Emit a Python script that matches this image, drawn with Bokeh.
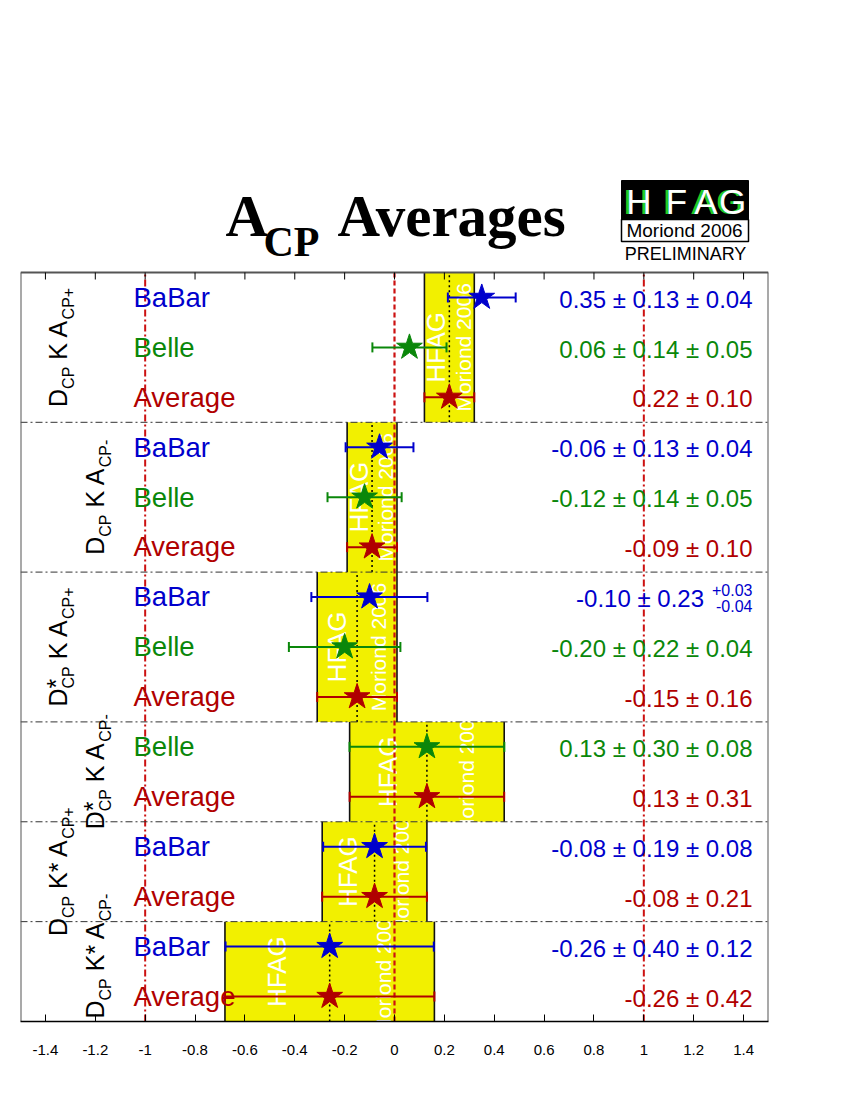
import math
from bokeh.plotting import figure
from bokeh.models import Range1d, FixedTicker, Label
from bokeh.embed import file_html
from bokeh.resources import INLINE
from bokeh.core.properties import value

# ---------------- data ----------------
group_labels = [
    [("D", "n"), ("CP", "sub"), (" K A", "n"), ("CP+", "sub")],
    [("D", "n"), ("CP", "sub"), (" K A", "n"), ("CP-", "sub")],
    [("D", "n"), ("*", "sup"), ("CP", "sub"), (" K A", "n"), ("CP+", "sub")],
    [("D", "n"), ("*", "sup"), ("CP", "sub"), (" K A", "n"), ("CP-", "sub")],
    [("D", "n"), ("CP", "sub"), (" K* A", "n"), ("CP+", "sub")],
    [("D", "n"), ("CP", "sub"), (" K* A", "n"), ("CP-", "sub")],
]
group_sizes = [3, 3, 3, 2, 2, 2]
row_names = ["BaBar", "Belle", "Average",
             "BaBar", "Belle", "Average",
             "BaBar", "Belle", "Average",
             "Belle", "Average",
             "BaBar", "Average",
             "BaBar", "Average"]
row_values = [0.35, 0.06, 0.22, -0.06, -0.12, -0.09, -0.10, -0.20, -0.15,
              0.13, 0.13, -0.08, -0.08, -0.26, -0.26]
row_stat = [0.13, 0.14, 0.10, 0.13, 0.14, 0.10, 0.23, 0.22, 0.16,
            0.30, 0.31, 0.19, 0.21, 0.40, 0.42]
row_syst_up = [0.04, 0.05, 0.0, 0.04, 0.05, 0.0, 0.03, 0.04, 0.0,
               0.08, 0.0, 0.08, 0.0, 0.12, 0.0]
row_syst_dn = [0.04, 0.05, 0.0, 0.04, 0.05, 0.0, 0.04, 0.04, 0.0,
               0.08, 0.0, 0.08, 0.0, 0.12, 0.0]
tick_values = [-1.4, -1.2, -1.0, -0.8, -0.6, -0.4, -0.2, 0.0,
               0.2, 0.4, 0.6, 0.8, 1.0, 1.2, 1.4]
tick_labels = ["-1.4", "-1.2", "-1", "-0.8", "-0.6", "-0.4", "-0.2", "0",
               "0.2", "0.4", "0.6", "0.8", "1", "1.2", "1.4"]
reference_dashed = [0.0]
reference_dashdot = [-1.0, 1.0]
title_main, title_sub, title_rest = "A", "CP", "Averages"
logo_letters = ["H", "F", "A", "G"]
logo_event = "Moriond 2006"
logo_status = "PRELIMINARY"
watermark_top, watermark_bottom = "HFAG", "Moriond 2006"

# ---------------- styles / geometry ----------------
colors = {"BaBar": "#0000cc", "Belle": "#0a870a", "Average": "#b00000"}
YELLOW = "#f2f000"
FONT = "Liberation Sans"
SERIF = "Liberation Serif"
BL = 0.37  # renderer's baseline drop (fraction of font size) compensated below
X0, X1 = -1.5, 1.5
NROWS = len(row_names)
PX_L, PX_R, PY_T, PY_B = 20, 768, 272, 1021
PY_HDR = 172
DXPP = (X1 - X0) / (PX_R - PX_L)
DYPP = NROWS / (PY_B - PY_T)
Y_TOP = (PY_B - PY_HDR) * DYPP


def fx(px):
    return X0 + (px - PX_L) * DXPP


def fy(py):
    return (PY_B - py) * DYPP


def hb(py, fs):
    """data y of anchor so that the visual baseline lands at page y py"""
    return fy(py - BL * fs)


W = {" ": 278, "*": 389, "+": 584, "-": 333, ".": 278, "±": 549,
     "A": 667, "B": 667, "C": 722, "D": 722, "E": 667, "F": 611, "G": 778,
     "H": 722, "I": 278, "K": 667, "L": 556, "M": 833, "N": 722, "P": 667,
     "R": 722, "Y": 667, "a": 556, "d": 556, "e": 556, "g": 556, "i": 222,
     "l": 222, "n": 556, "o": 556, "r": 333, "v": 500}


def tw(s, fs):
    return sum(W.get(c, 556) for c in s) / 1000.0 * fs


FIG_W, FIG_H = 834, 1084
p = figure(width=FIG_W, height=FIG_H, x_range=Range1d(X0, X1), y_range=Range1d(0, Y_TOP),
           toolbar_location=None, output_backend="svg", y_axis_location=None,
           min_border_left=PX_L, min_border_right=FIG_W - PX_R,
           min_border_top=PY_HDR, min_border_bottom=FIG_H - PY_B)
p.grid.visible = False
p.outline_line_color = None
p.xaxis.ticker = FixedTicker(ticks=tick_values)
p.xaxis.major_label_overrides = dict(zip(tick_values, tick_labels))
p.xaxis.minor_tick_line_color = None
p.xaxis.major_tick_in = 7
p.xaxis.major_tick_out = 0
p.xaxis.major_tick_line_color = "black"
p.xaxis.axis_line_color = "black"
p.xaxis.axis_line_width = 1.5
p.xaxis.major_label_standoff = 23
p.xaxis.major_label_text_font = FONT
p.xaxis.major_label_text_font_size = "15px"
p.xaxis.major_label_text_color = "black"

# ---------------- header (title + logo) ----------------
p.text(x=[fx(225)], y=[hb(237, 59)], text=[title_main], text_font=value(SERIF),
       text_font_style="bold", text_font_size="59px", text_baseline="alphabetic",
       text_align="left", text_color="black")
p.text(x=[fx(263)], y=[hb(257, 42)], text=[title_sub], text_font=value(SERIF),
       text_font_style="bold", text_font_size="42px", text_baseline="alphabetic",
       text_align="left", text_color="black")
p.text(x=[fx(337)], y=[hb(237, 59)], text=[title_rest], text_font=value(SERIF),
       text_font_style="bold", text_font_size="59px", text_baseline="alphabetic",
       text_align="left", text_color="black")
p.quad(left=[fx(621)], right=[fx(748)], top=[fy(180)], bottom=[fy(219)],
       fill_color="black", line_color="black")
p.quad(left=[fx(621)], right=[fx(748)], top=[fy(219)], bottom=[fy(241)],
       fill_color="white", line_color="black", line_width=1.5)
letter_px = [638.5, 676, 705.5, 732]
p.text(x=[fx(v - 3) for v in letter_px], y=[hb(214, 35)] * 4, text=logo_letters,
       text_font=value(FONT), text_font_size="35px", text_align="center",
       text_baseline="alphabetic", text_color="#22cc22")
p.text(x=[fx(v) for v in letter_px], y=[hb(214, 35)] * 4, text=logo_letters,
       text_font=value(FONT), text_font_size="35px", text_align="center",
       text_baseline="alphabetic", text_color="white")
p.text(x=[fx(684)], y=[hb(237, 19)], text=[logo_event], text_font=value(FONT),
       text_font_size="19px", text_align="center", text_baseline="alphabetic",
       text_color="black")
p.text(x=[fx(685)], y=[hb(260, 18)], text=[logo_status], text_font=value(FONT),
       text_font_size="18px", text_align="center", text_baseline="alphabetic",
       text_color="black")

# ---------------- chart ----------------
row_y = [NROWS - i - 0.5 for i in range(NROWS)]
err_up = [math.sqrt(s ** 2 + u ** 2) for s, u in zip(row_stat, row_syst_up)]
err_dn = [math.sqrt(s ** 2 + d ** 2) for s, d in zip(row_stat, row_syst_dn)]

sections = []
start = 0
for g, n in enumerate(group_sizes):
    top = NROWS - start
    bot = top - n
    ia = start + n - 1
    c = row_values[ia]
    e = row_stat[ia]
    sections.append(dict(top=top, bot=bot, c=c, lo=c - e, hi=c + e, e=e))
    start += n

# yellow boxes
p.quad(left=[s["lo"] for s in sections], right=[s["hi"] for s in sections],
       top=[s["top"] for s in sections], bottom=[s["bot"] for s in sections],
       fill_color=YELLOW, line_color=None)

# watermark texts (rotated)
WM_H, WM_M = 26, 21
wm_y = [(s["top"] + s["bot"]) / 2 for s in sections]
wm_hx = [s["c"] - s["e"] / 2 + 9 * DXPP for s in sections]
wm_mx = [s["c"] + s["e"] / 2 + 9 * DXPP for s in sections]
p.text(x=[v - BL * WM_H * DXPP for v in wm_hx], y=wm_y,
       text=[watermark_top] * len(sections), angle=math.pi / 2,
       text_font=value(FONT), text_font_size=f"{WM_H}px", text_align="center",
       text_baseline="alphabetic", text_color="white")
p.text(x=[v - BL * WM_M * DXPP for v in wm_mx], y=wm_y,
       text=[watermark_bottom] * len(sections), angle=math.pi / 2,
       text_font=value(FONT), text_font_size=f"{WM_M}px", text_align="center",
       text_baseline="alphabetic", text_color="white")

# clip overflow of watermark text (cover with the neighbour's background)
half = tw(watermark_bottom, WM_M) / 2 * DYPP
cl, cr, ct, cb, cc = [], [], [], [], []
for k, s in enumerate(sections):
    yc = (s["top"] + s["bot"]) / 2
    x0 = wm_mx[k] - 18 * DXPP
    x1 = wm_mx[k] + 4 * DXPP
    regions = []
    if yc + half > s["top"] and k > 0:
        regions.append((s["top"], yc + half + 2 * DYPP, sections[k - 1]))
    if yc - half < s["bot"]:
        nb = sections[k + 1] if k < len(sections) - 1 else None
        regions.append((yc - half - 2 * DYPP, s["bot"], nb))
    for ya, yb, nb in regions:
        if nb is None:
            cl.append(x0); cr.append(x1); cb.append(ya); ct.append(yb); cc.append("white")
            continue
        pts = sorted(set([x0, x1] + [v for v in (nb["lo"], nb["hi"]) if x0 < v < x1]))
        for a, b in zip(pts[:-1], pts[1:]):
            mid = (a + b) / 2
            cl.append(a); cr.append(b); cb.append(ya); ct.append(yb)
            cc.append(YELLOW if nb["lo"] <= mid <= nb["hi"] else "white")
if cl:
    p.quad(left=cl, right=cr, top=ct, bottom=cb, fill_color=cc, line_color=None)

# average dotted lines and box edges
p.segment(x0=[s["c"] for s in sections], y0=[s["bot"] for s in sections],
          x1=[s["c"] for s in sections], y1=[s["top"] for s in sections],
          line_color="black", line_width=1.5, line_dash="2 3")
edge_x = [s["lo"] for s in sections] + [s["hi"] for s in sections]
edge_b = [s["bot"] for s in sections] * 2
edge_t = [s["top"] for s in sections] * 2
p.segment(x0=edge_x, y0=edge_b, x1=edge_x, y1=edge_t, line_color="#111111", line_width=1.6)

# reference vertical lines
p.segment(x0=reference_dashed, y0=[0] * len(reference_dashed), x1=reference_dashed,
          y1=[NROWS] * len(reference_dashed), line_color="#cc1111", line_width=2.2,
          line_dash="5 3")
p.segment(x0=reference_dashdot, y0=[0] * len(reference_dashdot), x1=reference_dashdot,
          y1=[NROWS] * len(reference_dashdot), line_color="#cc1111", line_width=2,
          line_dash="7 3 2 3")

# separators
sep_y = [s["bot"] for s in sections[:-1]]
p.segment(x0=[X0] * len(sep_y), y0=sep_y, x1=[X1] * len(sep_y), y1=sep_y,
          line_color="#333333", line_width=1, line_dash="7 3 2 3")

# chart frame (top, left, right) and top ticks
p.segment(x0=[X0, X0, X1], y0=[NROWS, 0, 0], x1=[X1, X0, X1], y1=[NROWS, NROWS, NROWS],
          line_color="#555555", line_width=2)
p.segment(x0=tick_values, y0=[NROWS] * len(tick_values), x1=tick_values,
          y1=[NROWS - 7 * DYPP] * len(tick_values), line_color="black", line_width=1)

# error bars and stars
row_col = [colors[n] for n in row_names]
lo = [v - d for v, d in zip(row_values, err_dn)]
hi = [v + u for v, u in zip(row_values, err_up)]
p.segment(x0=lo, y0=row_y, x1=hi, y1=row_y, line_color=row_col, line_width=2)
cap = 5 * DYPP
p.segment(x0=lo + hi, y0=[y - cap for y in row_y] * 2, x1=lo + hi,
          y1=[y + cap for y in row_y] * 2, line_color=row_col * 2, line_width=2)
p.scatter(x=row_values, y=row_y, marker="star", size=27, fill_color=row_col,
          line_color=row_col)

# row names
NAME_FS, VAL_FS, SM_FS = 27.5, 24, 16
NAME_X = fx(133)
VAL_X = fx(752)
p.text(x=[NAME_X] * NROWS, y=[y - (10 - BL * NAME_FS) * DYPP for y in row_y],
       text=row_names, text_color=row_col, text_font=value(FONT),
       text_font_size=f"{NAME_FS}px", text_align="left", text_baseline="alphabetic")


def fmt(v):
    return f"{v:.2f}"


vx, vy, vt, vc = [], [], [], []
sx, sy, st, sc = [], [], [], []
for i in range(NROWS):
    v, s_, u, d = row_values[i], row_stat[i], row_syst_up[i], row_syst_dn[i]
    by = row_y[i] - (10.5 - BL * VAL_FS) * DYPP
    if u == 0 and d == 0:
        vx.append(VAL_X); vy.append(by); vt.append(f"{fmt(v)} ± {fmt(s_)}")
        vc.append(row_col[i])
    elif u == d:
        vx.append(VAL_X); vy.append(by)
        vt.append(f"{fmt(v)} ± {fmt(s_)} ± {fmt(u)}"); vc.append(row_col[i])
    else:
        up_t, dn_t = f"+{fmt(u)}", f"-{fmt(d)}"
        wsmall = max(tw(up_t, SM_FS), tw(dn_t, SM_FS))
        vx.append(VAL_X - (wsmall + 8) * DXPP); vy.append(by)
        vt.append(f"{fmt(v)} ± {fmt(s_)}"); vc.append(row_col[i])
        sx += [VAL_X, VAL_X]
        sy += [row_y[i] + (1.5 + BL * SM_FS) * DYPP, row_y[i] - (14.5 - BL * SM_FS) * DYPP]
        st += [up_t, dn_t]
        sc += [row_col[i], row_col[i]]
p.text(x=vx, y=vy, text=vt, text_color=vc, text_font=value(FONT),
       text_font_size=f"{VAL_FS}px", text_align="right", text_baseline="alphabetic")
if sx:
    p.text(x=sx, y=sy, text=st, text_color=sc, text_font=value(FONT),
           text_font_size=f"{SM_FS}px", text_align="right", text_baseline="alphabetic")

# group labels (rotated, composed with sub/superscripts)
BIG, SMALL, SUB_SHIFT, SUP_SHIFT = 25, 16, 7, -2
label_x = [fx(67), fx(104)]
for g, pieces in enumerate(group_labels):
    s = sections[g]
    yc = (s["top"] + s["bot"]) / 2
    bx = label_x[g % 2]
    pos, pending = 0.0, 0.0
    items = []
    for text, role in pieces:
        fs = SMALL if role == "sub" else BIG
        shift = SUB_SHIFT if role == "sub" else (SUP_SHIFT if role == "sup" else 0)
        lead = len(text) - len(text.lstrip(" "))
        pos += tw(" " * lead, fs)
        t = text.lstrip(" ")
        if role == "sup":
            items.append((t, pos, fs, shift))
            pending = tw(t, fs)
            continue
        items.append((t, pos, fs, shift))
        pos += max(tw(t, fs), pending)
        pending = 0.0
    total = pos
    y0 = max(yc - total / 2 * DYPP, 3 * DYPP)
    for t, ppos, fs, shift in items:
        p.add_layout(Label(x=bx + (shift - BL * fs) * DXPP, y=y0 + ppos * DYPP, text=t,
                           angle=math.pi / 2, text_font=FONT, text_font_size=f"{fs}px",
                           text_align="left", text_baseline="alphabetic",
                           text_color="black"))

open("out.html", "w").write(file_html(p, INLINE))
